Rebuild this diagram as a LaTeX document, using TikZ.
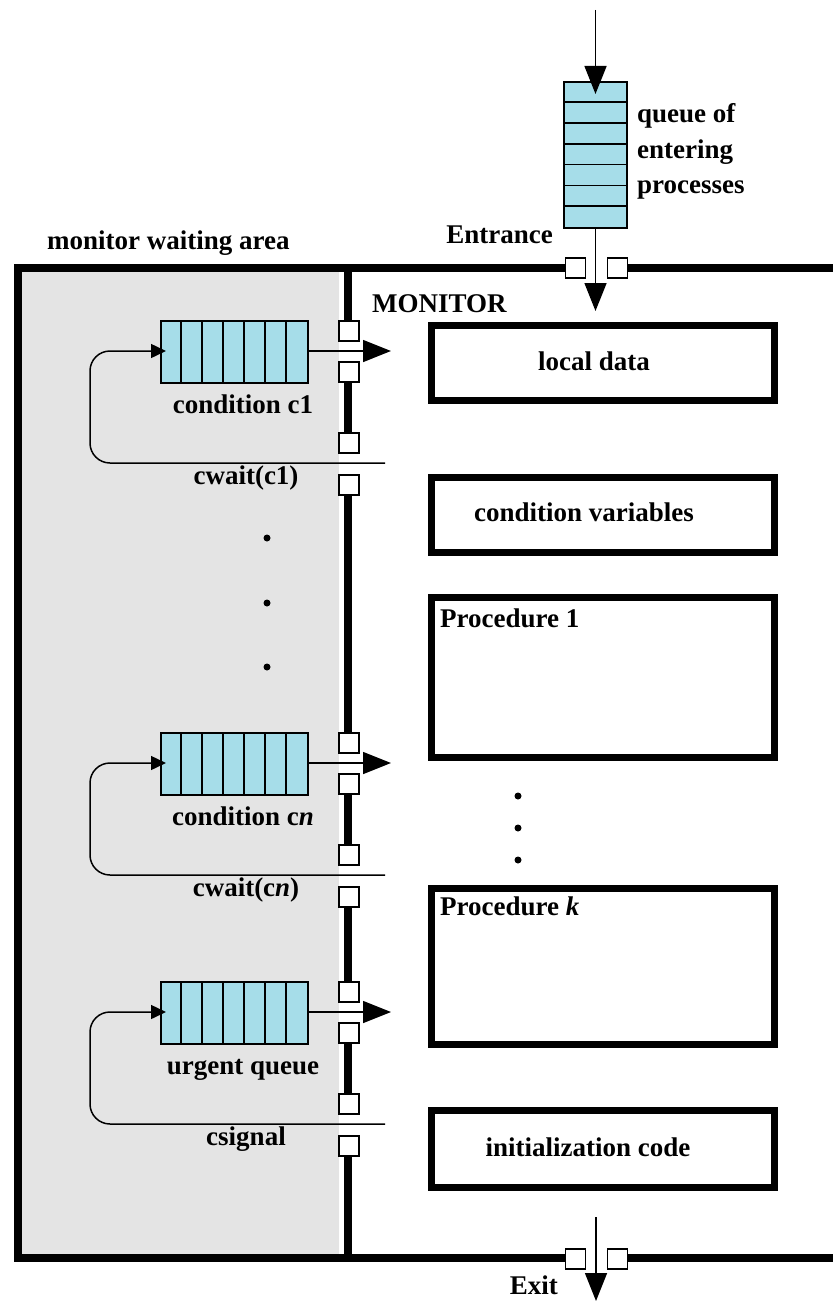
\documentclass[tikz,border=0pt]{standalone}
\usepackage{fontspec}
\setmainfont{Liberation Serif}
\usetikzlibrary{arrows.meta}
\definecolor{qblue}{RGB}{166,221,233}
\definecolor{wgray}{RGB}{228,228,228}
\tikzset{
  heavy/.style={line width=8pt},
  fineline/.style={line width=1.7pt},
  port/.style={draw, fill=white, line width=1.5pt, minimum size=20pt, inner sep=0pt, outer sep=0pt},
  lbl/.style={font=\fontsize{27}{32}\selectfont\bfseries, inner sep=0pt},
  bigarrow/.style={-{Triangle[length=28pt,width=22pt]}, line width=1.5pt},
  smallarrow/.style={-{Triangle[length=15pt,width=14pt]}, line width=1.5pt},
  blockbox/.style={draw, line width=7pt, fill=white, inner sep=0pt},
  queuebox/.style={draw, fill=qblue, line width=1.7pt, inner sep=0pt},
  dotn/.style={circle, fill=black, minimum size=7pt, inner sep=0pt},
}
\begin{document}
\begin{tikzpicture}[x=1pt, y=-1pt]
\useasboundingbox (0,0) rectangle (833,1303);
% waiting area
\fill[wgray] (18,268) rectangle (339,1258);
% outer frame
\draw[heavy, line join=miter] (576,268) -- (18,268) -- (18,1258) -- (576,1258);
\draw[heavy] (617,268) -- (833,268);
\draw[heavy] (617,1258) -- (833,1258);
% divider
\foreach \s/\e in {264/321, 382/433, 495/733, 794/845, 907/982, 1043/1094, 1156/1262}
  \draw[heavy] (348,\s) -- (348,\e);
% entrance
\node[queuebox, minimum width=63pt, minimum height=146pt] (eq) at (595.5,155) {};
\foreach \k in {1,...,6}
  \draw[fineline] ([yshift=-\k*20.857pt]eq.north west) -- ([yshift=-\k*20.857pt]eq.north east);
\coordinate (inTop) at (595.5,10);
\coordinate (inTip) at (595.5,94);
\draw[bigarrow] (inTop) -- (inTip);
\node[port] (en1) at (575.5,268) {};
\node[port] (en2) at (617.5,268) {};
\coordinate (entTip) at (595.5,311);
\draw[bigarrow] (eq.south) -- (entTip);
\node[lbl, anchor=base west] (qt1) at (637,123) {queue of};
\node[lbl, anchor=base west] (qt2) at (637,158) {entering};
\node[lbl, anchor=base west] (qt3) at (637,193) {processes};
\node[lbl, anchor=base east] (entr) at (553,243) {Entrance};
\node[lbl, anchor=base west] (mwa) at (47,249) {monitor waiting area};
\node[lbl, anchor=base west] (mon) at (372,312) {MONITOR};
% exit
\node[port] (ex1) at (575.5,1259) {};
\node[port] (ex2) at (617.5,1259) {};
\coordinate (exTop) at (596,1217);
\coordinate (exTip) at (596,1301);
\draw[bigarrow] (exTop) -- (exTip);
\node[lbl, anchor=base east] (exit) at (558,1294) {Exit};
% condition queues
\foreach \a/\nm/\lab/\cw in {351/c1/{condition c1}/{cwait(c1)}, 763/cn/{condition c\textit{n}}/{cwait(c\textit{n})}, 1012/ur/{urgent queue}/{csignal}}{
  \node[queuebox, minimum width=147pt, minimum height=62pt] (q\nm) at (234.5,\a+1) {};
  \foreach \k in {1,...,6}
    \draw[fineline] ([xshift=\k*21pt]q\nm.north west) -- ([xshift=\k*21pt]q\nm.south west);
  \coordinate (o\nm) at (391,\a);
  \draw[bigarrow] (q\nm.east |- 0,\a) -- (o\nm);
  \coordinate (l\nm) at (385,\a+112);
  \draw[smallarrow, rounded corners=20pt] (l\nm) -- (90,\a+112) -- (90,\a) -- (166,\a);
  \node[port] (pa\nm) at (349,\a-20) {};
  \node[port] (pb\nm) at (349,\a+21) {};
  \node[port] (pc\nm) at (349,\a+92) {};
  \node[port] (pd\nm) at (349,\a+134) {};
  \node[lbl, anchor=base] (t\nm) at (243,\a+62) {\lab};
  \node[lbl, anchor=base] (w\nm) at (246,\a+133) {\cw};
}
% dots
\node[dotn] (dl1) at (267,538) {};
\node[dotn] (dl2) at (267,603) {};
\node[dotn] (dl3) at (267,667) {};
\node[dotn] (dr1) at (518,796) {};
\node[dotn] (dr2) at (518,828) {};
\node[dotn] (dr3) at (518,860) {};
% right boxes
\draw[blockbox] (431,325) rectangle (774,400);
\node[lbl, anchor=base] (ld) at (594,370) {local data};
\draw[blockbox] (431,477) rectangle (774,552);
\node[lbl, anchor=base] (cv) at (584,521) {condition variables};
\draw[blockbox] (431,597) rectangle (774,757);
\node[lbl, anchor=base west] (p1) at (440,627) {Procedure 1};
\draw[blockbox] (431,888) rectangle (774,1044);
\node[lbl, anchor=base west] (pk) at (440,915) {Procedure \textit{k}};
\draw[blockbox] (431,1110) rectangle (774,1187);
\node[lbl, anchor=base] (ic) at (588,1156) {initialization code};
\end{tikzpicture}
\end{document}
